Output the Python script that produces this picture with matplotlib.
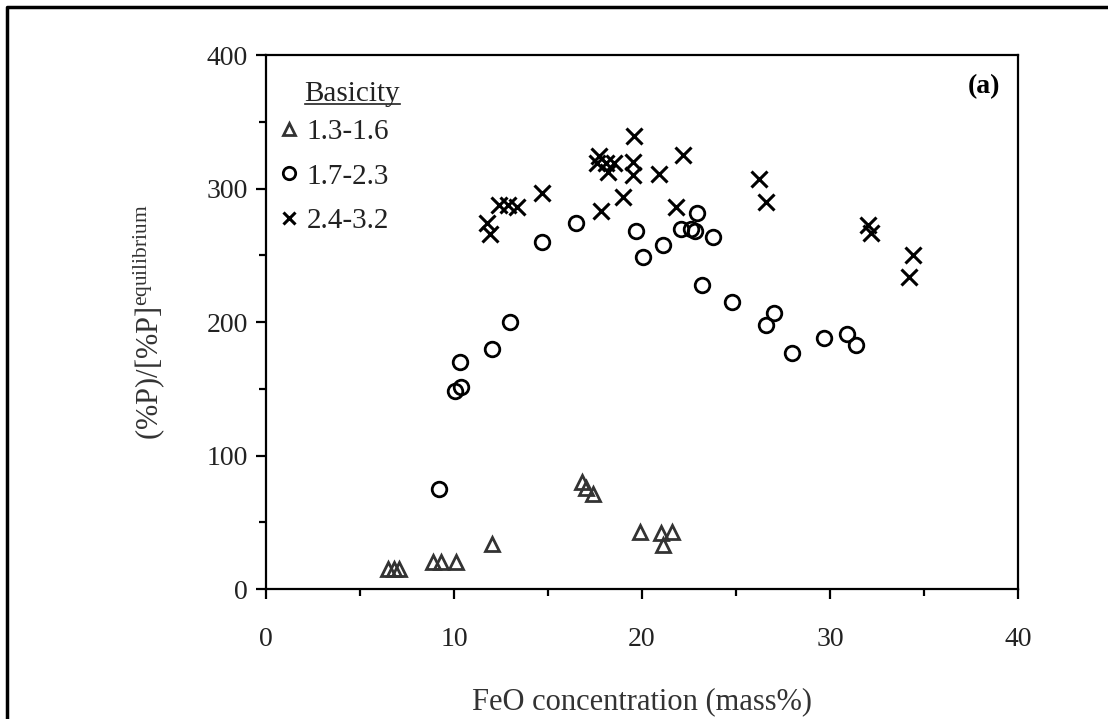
import matplotlib
matplotlib.use("Agg")
import matplotlib.pyplot as plt
from matplotlib.lines import Line2D
from matplotlib.ticker import MultipleLocator

plt.rcParams['font.family'] = ['Liberation Serif', 'DejaVu Serif']
plt.rcParams['mathtext.fontset'] = 'custom'
plt.rcParams['mathtext.rm'] = 'Liberation Serif'

# basicity 1.3-1.6
feo_low = [6.5, 6.8, 7.1, 8.9, 9.3, 10.1, 12.0, 16.8, 17.0, 17.4, 19.9, 21.0, 21.1, 21.6]
lp_low = [15, 15, 15, 20, 20, 20, 34, 80, 76, 71, 43, 42, 33, 43]

# basicity 1.7-2.3
feo_mid = [9.2, 10.05, 10.4, 10.3, 12.0, 13.0, 14.7, 16.5, 19.7, 20.05, 21.1, 22.9,
           22.1, 22.6, 22.8, 23.8, 23.2, 24.8, 27.0, 26.6, 28.0, 29.7, 30.9, 31.4]
lp_mid = [75, 148, 151, 170, 180, 200, 260, 274, 268, 249, 258, 282,
          270, 270, 268, 264, 228, 215, 207, 198, 177, 188, 191, 183]

# basicity 2.4-3.2
feo_high = [11.75, 11.9, 12.4, 12.9, 13.35, 14.7, 17.8, 17.7, 17.6, 18.1, 18.5, 18.2,
            19.6, 19.5, 19.5, 19.0, 22.2, 20.9, 21.8, 26.2, 26.6, 32.0, 32.2, 34.4, 34.2]
lp_high = [274, 266, 288, 288, 286, 297, 283, 324, 319, 319, 319, 312,
           339, 320, 310, 294, 325, 311, 286, 307, 290, 273, 267, 250, 234]

labels = ['1.3-1.6', '1.7-2.3', '2.4-3.2']

fig = plt.figure(figsize=(11.08, 7.19), dpi=100)
ax = fig.add_axes([0.240, 0.1808, 0.6788, 0.7427])

ax.plot(feo_low, lp_low, linestyle='none', marker='^', ms=10, mfc='none',
        mec='#333333', mew=2.0, label=labels[0])
ax.plot(feo_mid, lp_mid, linestyle='none', marker='o', ms=10.5, mfc='none',
        mec='black', mew=2.0, label=labels[1])
ax.plot(feo_high, lp_high, linestyle='none', marker='x', ms=11, mec='black',
        mew=2.2, label=labels[2])

ax.set_xlim(0, 40)
ax.set_ylim(0, 400)
ax.xaxis.set_major_locator(MultipleLocator(10))
ax.xaxis.set_minor_locator(MultipleLocator(5))
ax.yaxis.set_major_locator(MultipleLocator(100))
ax.yaxis.set_minor_locator(MultipleLocator(50))
ax.tick_params(which='both', direction='out', width=1.6, colors='black',
               labelsize=20, labelcolor='#222222', top=False, right=False)
ax.tick_params(which='major', length=7)
ax.tick_params(which='minor', length=5)
ax.tick_params(axis='x', which='major', pad=20)
ax.tick_params(axis='y', which='major', pad=6)
for s in ax.spines.values():
    s.set_linewidth(1.6)

ax.set_xlabel('FeO concentration (mass%)', fontsize=22, color='#333333', labelpad=26)
ax.set_ylabel(r'(%P)/[%P]$^{\mathrm{equilibrium}}$', fontsize=22, color='#333333',
              labelpad=28)

ax.text(0.955, 0.94, '(a)', transform=ax.transAxes, fontsize=20, fontweight='bold',
        ha='center', va='center')

leg = ax.legend(title='Basicity', loc='upper left', frameon=False, fontsize=21,
                title_fontsize=21, handlelength=0.6, handletextpad=0.3,
                labelspacing=0.62, borderaxespad=0.0, markerscale=0.85,
                alignment='left', bbox_to_anchor=(0.004, 0.985))
leg.get_title().set_position((24, -6))
leg.get_title().set_color('#222222')
for t in leg.get_texts():
    t.set_color('#222222')

# underline the legend title
fig.canvas.draw()
bb = leg.get_title().get_window_extent().transformed(fig.transFigure.inverted())
fig.add_artist(Line2D([bb.x0, bb.x1], [bb.y0 + 0.004, bb.y0 + 0.004],
                      transform=fig.transFigure, color='#222222', lw=1.2))

# outer page frame
fig.add_artist(Line2D([7 / 1108, 7 / 1108, 1.0], [0.0, 1 - 7 / 719, 1 - 7 / 719],
                      transform=fig.transFigure, color='black', lw=2.5))

fig.savefig('out.png', dpi=100)
